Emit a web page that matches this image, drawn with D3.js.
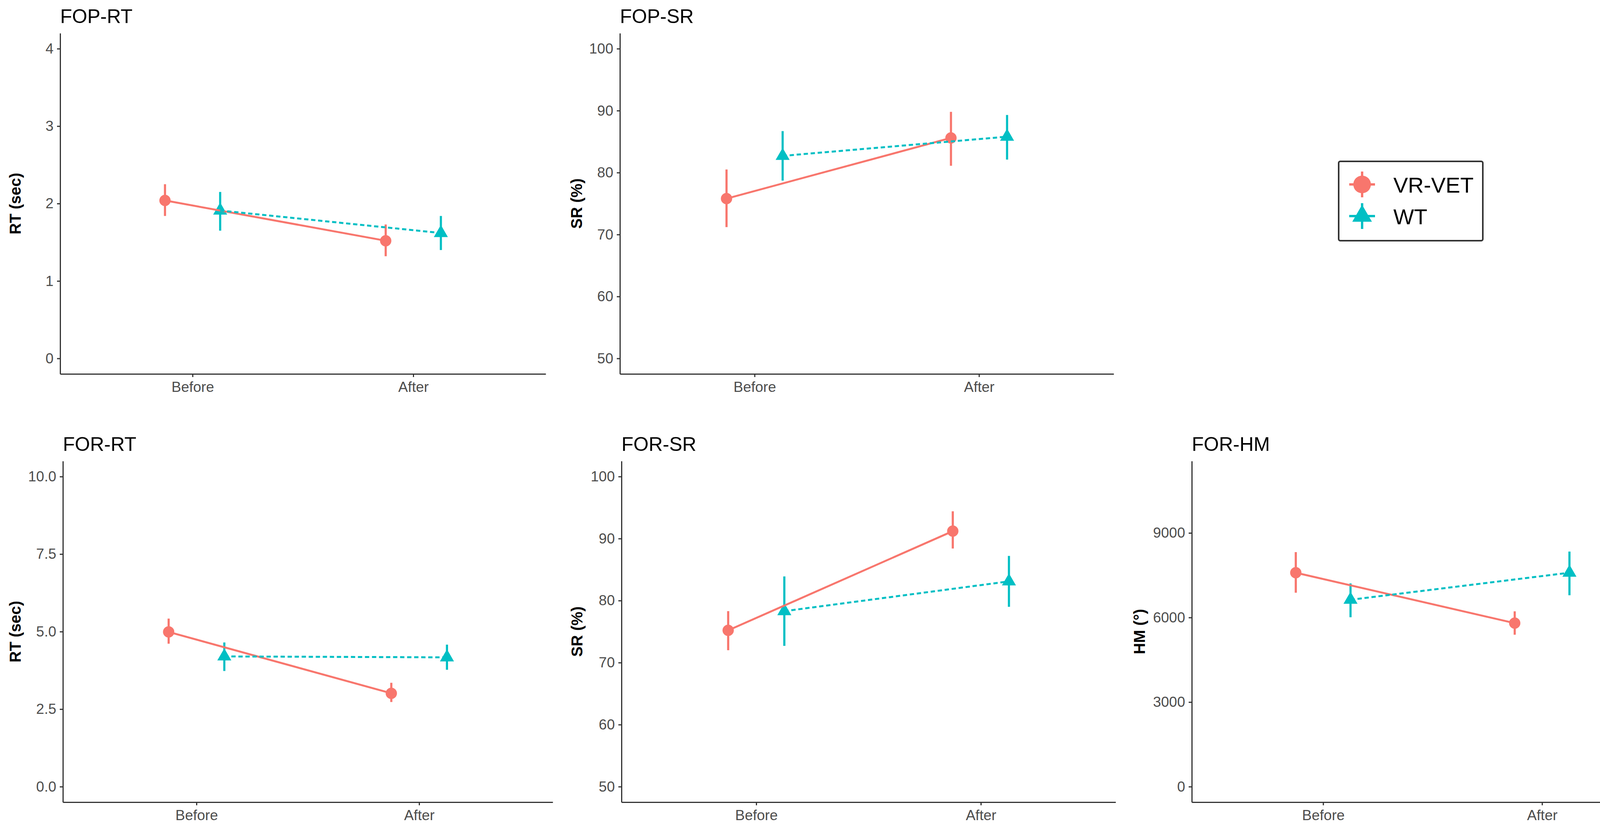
<!DOCTYPE html>
<html><head><meta charset="utf-8">
<script src="https://cdn.jsdelivr.net/npm/d3@7"></script>
<style>body{margin:0;background:#fff}svg{display:block}</style>
</head><body><svg id="c" width="4314" height="2114"></svg>
<script>
// ---------- data ----------
const phases = ["Before", "After"];
const groups = ["VR-VET", "WT"];
const groupColors = ["#F8766D", "#00BFC4"];

// FOP-RT (sec)
const fopRT_vr = [2.04, 1.52], fopRT_vr_lo = [1.84, 1.32], fopRT_vr_hi = [2.25, 1.73];
const fopRT_wt = [1.91, 1.62], fopRT_wt_lo = [1.65, 1.40], fopRT_wt_hi = [2.15, 1.84];
const fopRT_ticks = [0, 1, 2, 3, 4];

// FOP-SR (%)
const fopSR_vr = [75.8, 85.6], fopSR_vr_lo = [71.2, 81.1], fopSR_vr_hi = [80.5, 89.8];
const fopSR_wt = [82.7, 85.8], fopSR_wt_lo = [78.7, 82.1], fopSR_wt_hi = [86.7, 89.3];
const fopSR_ticks = [50, 60, 70, 80, 90, 100];

// FOR-RT (sec)
const forRT_vr = [4.99, 3.01], forRT_vr_lo = [4.61, 2.73], forRT_vr_hi = [5.42, 3.35];
const forRT_wt = [4.20, 4.17], forRT_wt_lo = [3.73, 3.77], forRT_wt_hi = [4.65, 4.58];
const forRT_ticks = [0, 2.5, 5, 7.5, 10];

// FOR-SR (%)
const forSR_vr = [75.2, 91.2], forSR_vr_lo = [72.0, 88.4], forSR_vr_hi = [78.3, 94.4];
const forSR_wt = [78.3, 83.1], forSR_wt_lo = [72.7, 79.0], forSR_wt_hi = [83.9, 87.2];
const forSR_ticks = [50, 60, 70, 80, 90, 100];

// FOR-HM (°)
const forHM_vr = [7590, 5800], forHM_vr_lo = [6880, 5390], forHM_vr_hi = [8320, 6220];
const forHM_wt = [6630, 7590], forHM_wt_lo = [6010, 6790], forHM_wt_hi = [7210, 8340];
const forHM_ticks = [0, 3000, 6000, 9000];

// ---------- panels (data + layout) ----------
const panels = [
  {title: "FOP-RT", ylab: "RT (sec)", lim: [0, 4], ticks: fopRT_ticks, fmt: d3.format("d"),
   series: [[fopRT_vr, fopRT_vr_lo, fopRT_vr_hi], [fopRT_wt, fopRT_wt_lo, fopRT_wt_hi]],
   box: {x0: 154, x1: 1397, y0: 85, y1: 957}, labX: 39},
  {title: "FOP-SR", ylab: "SR (%)", lim: [50, 100], ticks: fopSR_ticks, fmt: d3.format("d"),
   series: [[fopSR_vr, fopSR_vr_lo, fopSR_vr_hi], [fopSR_wt, fopSR_wt_lo, fopSR_wt_hi]],
   box: {x0: 1587, x1: 2851, y0: 85, y1: 957}, labX: 1476},
  {title: "FOR-RT", ylab: "RT (sec)", lim: [0, 10], ticks: forRT_ticks, fmt: d3.format(".1f"),
   series: [[forRT_vr, forRT_vr_lo, forRT_vr_hi], [forRT_wt, forRT_wt_lo, forRT_wt_hi]],
   box: {x0: 161, x1: 1415, y0: 1180, y1: 2053}, labX: 39},
  {title: "FOR-SR", ylab: "SR (%)", lim: [50, 100], ticks: forSR_ticks, fmt: d3.format("d"),
   series: [[forSR_vr, forSR_vr_lo, forSR_vr_hi], [forSR_wt, forSR_wt_lo, forSR_wt_hi]],
   box: {x0: 1591, x1: 2856, y0: 1180, y1: 2053}, labX: 1477},
  {title: "FOR-HM", ylab: "HM (°)", lim: [0, 11000], ticks: forHM_ticks, fmt: d3.format("d"),
   series: [[forHM_vr, forHM_vr_lo, forHM_vr_hi], [forHM_wt, forHM_wt_lo, forHM_wt_hi]],
   box: {x0: 3051, x1: 4284, y0: 1180, y1: 2053}, labX: 2917}
];

const FONT = "'Liberation Sans', Arial, Helvetica, sans-serif";
const svg = d3.select("#c");
svg.append("rect").attr("width", 4314).attr("height", 2114).attr("fill", "#fff");

const symCircle = d3.symbol().type(d3.symbolCircle).size(660);
const symTri = d3.symbol().type(d3.symbolTriangle).size(560);

panels.forEach(p => {
  const b = p.box;
  const g = svg.append("g");
  const x = d3.scalePoint().domain(phases).range([b.x0, b.x1]).padding(0.6);
  const dodgeW = x.step() * 0.125;
  const dodge = [-dodgeW, dodgeW];
  const pad = (p.lim[1] - p.lim[0]) * 0.05;
  const y = d3.scaleLinear().domain([p.lim[0] - pad, p.lim[1] + pad]).range([b.y1, b.y0]);

  // y axis
  const ya = g.append("g").attr("transform", `translate(${b.x0},0)`)
    .call(d3.axisLeft(y).tickValues(p.ticks).tickFormat(p.fmt).tickSize(8).tickSizeOuter(0).tickPadding(9));
  // x axis
  const xa = g.append("g").attr("transform", `translate(0,${b.y1})`)
    .call(d3.axisBottom(x).tickSize(8).tickSizeOuter(0).tickPadding(12));
  [ya, xa].forEach(a => {
    a.select(".domain").attr("stroke", "#333").attr("stroke-width", 3);
    a.selectAll(".tick line").attr("stroke", "#333").attr("stroke-width", 3);
    a.selectAll(".tick text").attr("fill", "#4D4D4D").style("font-family", FONT).style("font-size", "37px");
  });

  // title
  g.append("text").attr("x", b.x0).attr("y", b.y0 - 26).text(p.title)
    .style("font-family", FONT).style("font-size", "50px").attr("fill", "#000");
  // y label
  g.append("text").attr("transform", `translate(${p.labX},${(b.y0 + b.y1) / 2}) rotate(-90)`)
    .attr("text-anchor", "middle").attr("dominant-baseline", "central").text(p.ylab)
    .style("font-family", FONT).style("font-size", "40px").style("font-weight", "bold").attr("fill", "#000");

  // error bars
  p.series.forEach((s, gi) => {
    const [m, lo, hi] = s;
    g.append("g").selectAll("line").data(phases).join("line")
      .attr("x1", (d, i) => x(d) + dodge[gi]).attr("x2", (d, i) => x(d) + dodge[gi])
      .attr("y1", (d, i) => y(lo[i])).attr("y2", (d, i) => y(hi[i]))
      .attr("stroke", groupColors[gi]).attr("stroke-width", 5.5);
  });
  // points
  p.series.forEach((s, gi) => {
    const [m] = s;
    g.append("g").selectAll("path").data(phases).join("path")
      .attr("transform", (d, i) => `translate(${x(d) + dodge[gi]},${y(m[i])})`)
      .attr("d", gi === 0 ? symCircle() : symTri())
      .attr("fill", groupColors[gi]);
  });
  // connecting lines
  p.series.forEach((s, gi) => {
    const [m] = s;
    const line = d3.line().x((d, i) => x(phases[i]) + dodge[gi]).y(d => y(d));
    g.append("path").datum(m).attr("d", line).attr("fill", "none")
      .attr("stroke", groupColors[gi]).attr("stroke-width", 5)
      .attr("stroke-dasharray", gi === 1 ? "11,7" : null);
  });
});

// ---------- legend ----------
const lg = svg.append("g");
lg.append("rect").attr("x", 3427).attr("y", 413).attr("width", 369).attr("height", 203).attr("rx", 4)
  .attr("fill", "#fff").attr("stroke", "#333").attr("stroke-width", 4);
const legY = [472, 553];
groups.forEach((name, gi) => {
  const cx = 3487, cy = legY[gi];
  lg.append("line").attr("x1", cx - 33).attr("x2", cx + 33).attr("y1", cy).attr("y2", cy)
    .attr("stroke", groupColors[gi]).attr("stroke-width", 6);
  lg.append("line").attr("x1", cx).attr("x2", cx).attr("y1", cy - 33).attr("y2", cy + 33)
    .attr("stroke", groupColors[gi]).attr("stroke-width", 6);
  lg.append("path").attr("transform", `translate(${cx},${cy})`)
    .attr("d", d3.symbol().type(gi === 0 ? d3.symbolCircle : d3.symbolTriangle).size(gi === 0 ? 1600 : 1100)())
    .attr("fill", groupColors[gi]);
  lg.append("text").attr("x", 3567).attr("y", cy + 21).text(name)
    .style("font-family", FONT).style("font-size", "56px").attr("fill", "#000");
});
</script>
</body></html>
